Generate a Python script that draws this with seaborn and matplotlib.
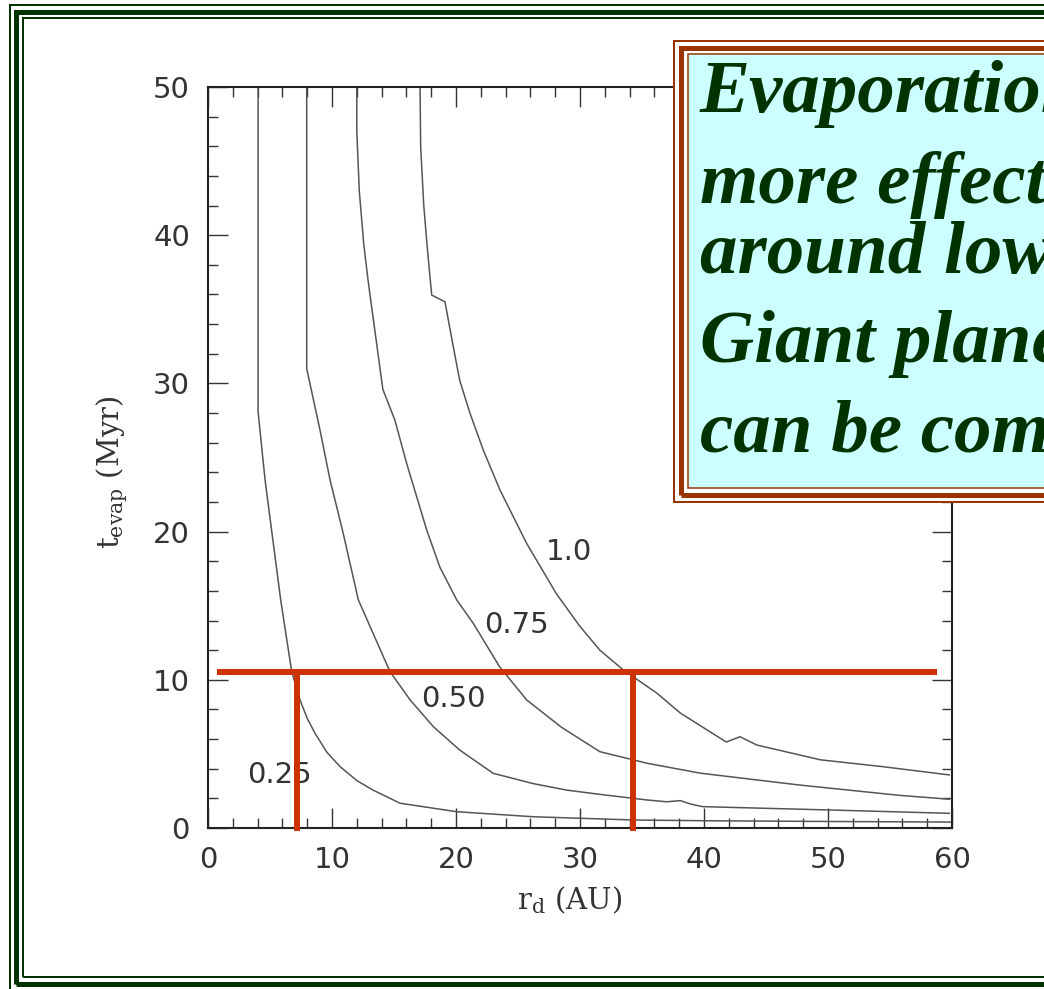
import numpy as np
import pandas as pd
import matplotlib
matplotlib.use("Agg")
import matplotlib.pyplot as plt
import seaborn as sns
from matplotlib.patches import Rectangle
from matplotlib.ticker import MultipleLocator

# ---------------- data ----------------
masses = ["0.25", "0.50", "0.75", "1.0"]

r_025 = [4.04, 4.04, 4.6, 5.86, 6.75, 7.42, 8.0, 8.63, 9.6, 10.65, 12.0, 13.3, 15.5, 20.05, 26.2, 34.3, 40.0, 50.0, 60.0]
t_025 = [50.0, 28.1, 23.5, 15.4, 10.55, 8.64, 7.4, 6.39, 5.1, 4.14, 3.2, 2.56, 1.67, 1.10, 0.76, 0.54, 0.49, 0.44, 0.40]

r_050 = [7.96, 7.96, 9.03, 9.84, 10.9, 12.12, 13.33, 14.68, 16.3, 18.17, 20.3, 23.0, 26.2, 28.9, 31.6, 35.4, 37.0, 38.1, 38.9, 39.9, 50.4, 59.8]
t_050 = [50.0, 31.0, 26.86, 23.5, 19.9, 15.4, 13.1, 10.55, 8.64, 6.84, 5.26, 3.69, 3.0, 2.56, 2.27, 1.89, 1.77, 1.85, 1.62, 1.44, 1.21, 0.99]

r_075 = [12.0, 12.0, 12.2, 12.55, 12.9, 13.5, 14.1, 15.08, 16.02, 16.83, 17.64, 18.7, 20.05, 21.4, 23.5, 25.7, 28.5, 29.7, 31.6, 35.4, 39.7, 47.7, 55.8, 59.8]
t_075 = [50.0, 47.0, 43.0, 39.5, 37.0, 33.3, 29.6, 27.5, 24.6, 22.35, 20.1, 17.6, 15.4, 13.8, 10.9, 8.64, 6.8, 6.16, 5.15, 4.37, 3.7, 2.9, 2.2, 1.94]

r_100 = [17.1, 17.15, 17.4, 17.7, 18.04, 18.04, 19.11, 19.78, 20.3, 21.13, 22.2, 23.55, 25.7, 28.1, 30.0, 31.6, 33.5, 36.2, 38.1, 41.8, 42.9, 44.25, 49.4, 54.4, 59.8]
t_100 = [50.0, 46.0, 42.0, 39.0, 35.96, 35.96, 35.51, 32.48, 30.2, 27.98, 25.5, 22.8, 19.2, 15.8, 13.6, 12.0, 10.66, 9.1, 7.75, 5.8, 6.16, 5.6, 4.6, 4.14, 3.58]

label_text = ["0.25", "0.50", "0.75", "1.0"]
label_r = [5.8, 19.8, 24.9, 29.1]
label_t = [3.6, 8.7, 13.7, 18.6]

# red guide lines
guide_t = 10.55
guide_r_span = [0.7, 58.8]
guide_r_cross = [7.15, 34.25]
guide_t_bottom = -0.2

x_ticks = [0, 10, 20, 30, 40, 50, 60]
y_ticks = [0, 10, 20, 30, 40, 50]

box_lines = ["Evaporation is", "more effective", "around low mass stars.",
             "Giant planet formation", "can be compromised."]

# ---------------- figure ----------------
sns.set_theme(style="ticks")
plt.rcParams["font.family"] = ["DejaVu Sans"]
plt.rcParams["mathtext.fontset"] = "dejavuserif"

W, H = 1044, 989
fig = plt.figure(figsize=(W / 100, H / 100), dpi=100)
fig.patch.set_facecolor("white")
ax = fig.add_axes([208 / W, 1 - 828 / H, 744 / W, 741 / H])
ax.set_facecolor("white")

df = pd.concat([
    pd.DataFrame({"r": r, "t": t, "mass": m})
    for r, t, m in zip([r_025, r_050, r_075, r_100], [t_025, t_050, t_075, t_100], masses)
], ignore_index=True)

sns.lineplot(data=df, x="r", y="t", hue="mass", palette=["#555555"] * 4,
             estimator=None, sort=False, legend=False, linewidth=1.1, ax=ax)

for txt, lr, lt in zip(label_text, label_r, label_t):
    ax.text(lr, lt, txt, ha="center", va="center", fontsize=21, color="#333333",
            family="DejaVu Sans")

red = "#CC3300"
ax.hlines(guide_t, guide_r_span[0], guide_r_span[1], color=red, lw=4.3, zorder=4, clip_on=False)
ax.vlines(guide_r_cross, guide_t_bottom, guide_t, color=red, lw=4.3, zorder=4, clip_on=False)

ax.set_xlim(0, 60)
ax.set_ylim(0, 50)
ax.set_xticks(x_ticks)
ax.set_yticks(y_ticks)
ax.xaxis.set_minor_locator(MultipleLocator(2))
ax.yaxis.set_minor_locator(MultipleLocator(2))
ax.tick_params(which="both", direction="in", top=True, right=True,
               color="#333333", width=1.0)
ax.tick_params(which="major", length=14.4, labelsize=21, pad=13, labelcolor="#333333")
ax.tick_params(which="minor", length=7.2)
for s in ax.spines.values():
    s.set_linewidth(1.5)
    s.set_color("#222222")

ax.set_xlabel(r"$\mathregular{r_d}$ (AU)", fontsize=21, family="DejaVu Serif", color="#333333")
ax.set_ylabel(r"$\mathregular{t_{evap}}$ (Myr)", fontsize=21, family="DejaVu Serif", color="#333333")
ax.xaxis.label.set_va("center")
ax.yaxis.label.set_va("center")
ax.xaxis.set_label_coords((570 - 208) / 744, (828 - 900) / 741)
ax.yaxis.set_label_coords((112 - 208) / 744, (828 - 472) / 741)


# ---------------- decorations in pixel space ----------------
def rect(left, top, right, bottom, lw_px, ec, fc="none", z=5):
    r = Rectangle((left / W, 1 - bottom / H), (right - left) / W, (bottom - top) / H,
                  transform=fig.transFigure, lw=lw_px * 72 / 100, ec=ec, fc=fc,
                  zorder=z, clip_on=False)
    fig.add_artist(r)


green = "#003300"
rect(10, 5, 1100, 991, 2, green)
rect(16, 12, 1100, 984, 5, green)
rect(23, 18, 1100, 977, 2, green)

brown = "#993300"
rect(674, 41, 1100, 502, 2, brown, fc="white", z=6)
rect(681, 47.5, 1100, 495.5, 5, brown, z=6)
rect(687.5, 53.5, 1100, 488, 1.5, brown, fc="#CCFFFF", z=6)

baselines = [112, 203, 273, 362, 452]
for line, yb in zip(box_lines, baselines):
    fig.text(700 / W, 1 - yb / H, line, ha="left", va="baseline", fontsize=54,
             family="Liberation Serif", weight="bold", style="italic",
             color="#003300", zorder=7)

fig.savefig("out.png", dpi=100)
